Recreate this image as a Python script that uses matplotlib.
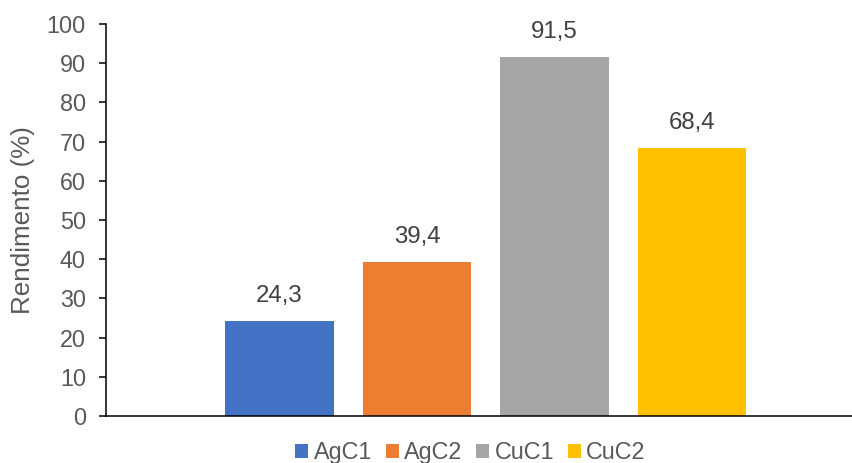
import matplotlib
matplotlib.use("Agg")
import matplotlib.pyplot as plt
from matplotlib.patches import Patch

series = ["AgC1", "AgC2", "CuC1", "CuC2"]
rendimento = [24.3, 39.4, 91.5, 68.4]
colors = ["#4472C4", "#ED7D31", "#A5A5A5", "#FFC000"]
yticks = list(range(0, 101, 10))

plt.rcParams["font.family"] = ["Liberation Sans", "DejaVu Sans"]

W, H = 853, 463
fig = plt.figure(figsize=(W / 100, H / 100), dpi=100)
# plot area runs past the right edge, as in the cropped original
ax = fig.add_axes([106 / W, 47 / H, 760 / W, 392 / H])

x = list(range(len(series)))
bars = ax.bar(x, rendimento, width=0.79, color=colors, zorder=2)

for b, v in zip(bars, rendimento):
    ax.annotate(f"{v:.1f}".replace(".", ","),
                (b.get_x() + b.get_width() / 2, v),
                xytext=(0, 18), textcoords="offset points",
                ha="center", va="center", fontsize=17.3, color="#404040")

ax.set_xlim(-1.262, 4.265)
ax.set_ylim(0, 100)
ax.set_yticks(yticks)
ax.set_xticks([])

for s in ["top", "right"]:
    ax.spines[s].set_visible(False)
for s in ["left", "bottom"]:
    ax.spines[s].set_color("black")
    ax.spines[s].set_linewidth(1.1)

ax.tick_params(axis="y", direction="out", length=5, width=1.1, color="black",
               pad=9.4, labelsize=16.8, labelcolor="#595959")

fig.text(23 / W, 1 - 220.5 / H, "Rendimento (%)", rotation=90,
         ha="center", va="center", fontsize=18.7, color="#595959")

handles = [Patch(facecolor=c, edgecolor="none", label=s)
           for c, s in zip(colors, series)]
fig.legend(handles=handles, loc="center", ncol=4, frameon=False,
           bbox_to_anchor=(470.5 / W, 1 - 452.5 / H),
           fontsize=16.8, labelcolor="#595959",
           handlelength=0.56, handleheight=0.56, handletextpad=0.22,
           columnspacing=0.6, borderaxespad=0, borderpad=0)

fig.savefig("out.png", dpi=100)
